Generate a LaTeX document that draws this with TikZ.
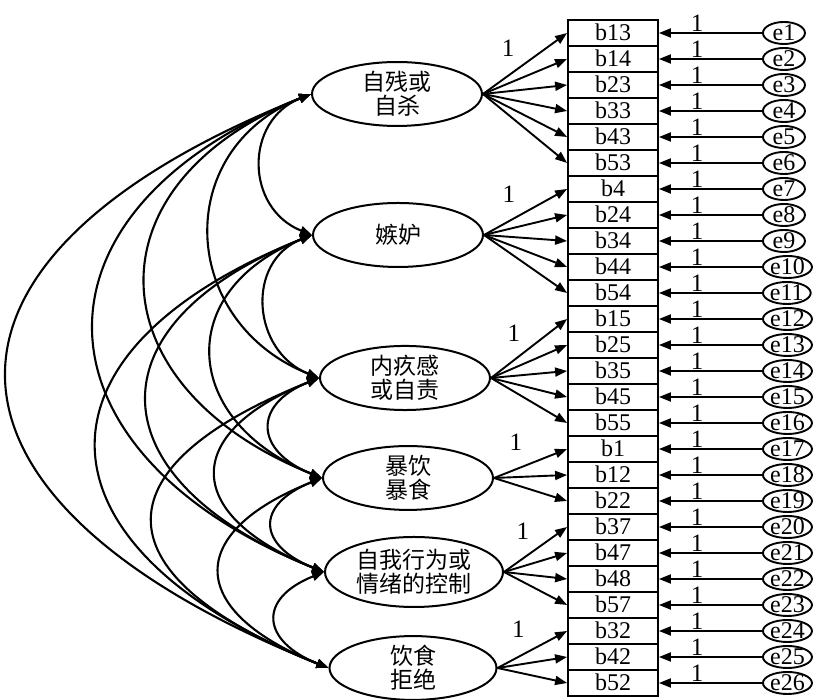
\documentclass[tikz,border=0pt]{standalone}
\usepackage{fontspec}
\setmainfont{Liberation Serif}
\newfontfamily\zhfont{Noto Sans CJK SC}
\usepackage{tikz}
\usetikzlibrary{arrows.meta,shapes.geometric}

\tikzset{
  item/.style={draw, line width=1.8pt, minimum width=90pt, minimum height=26pt,
    inner sep=0pt, text height=16pt, text depth=1pt, font=\fontsize{24}{24}\selectfont},
  err/.style={draw, ellipse, line width=1.9pt, anchor=west, minimum width=42pt,
    minimum height=22pt, inner sep=0pt, text height=15pt, text depth=0pt,
    font=\fontsize{24}{24}\selectfont},
  factor/.style={draw, ellipse, line width=2pt, minimum width=170pt, minimum height=62pt,
    inner sep=0pt, align=center, font=\zhfont\fontsize{23}{24}\selectfont},
  one/.style={inner sep=0pt, font=\fontsize{25}{25}\selectfont},
  load/.style={line width=1.9pt, -{Triangle[length=12pt,width=9pt]}},
  cov/.style={line width=2.1pt, {Triangle[length=12pt,width=9pt]}-{Triangle[length=12pt,width=9pt]}}
}

\begin{document}
\begin{tikzpicture}[x=1pt,y=1pt]
\useasboundingbox (0,0) rectangle (815,700);

% factors
\node[factor] (E1) at (397,606) {自残或\\自杀};
\node[factor, minimum height=64pt] (E2) at (398,465) {嫉妒};
\node[factor] (E3) at (405,322) {内疚感\\或自责};
\node[factor] (E4) at (408,222) {暴饮\\暴食};
\node[factor, minimum width=178pt, minimum height=70pt] (E5) at (414,128) {自我行为或\\情绪的控制};
\node[factor, minimum width=167pt, minimum height=60pt] (E6) at (413,32) {饮食\\拒绝};

% items and errors
\foreach \lab [count=\n] in {b13,b14,b23,b33,b43,b53,b4,b24,b34,b44,b54,b15,b25,b35,b45,b55,
                             b1,b12,b22,b37,b47,b48,b57,b32,b42,b52}{
  \node[item] (\lab) at (613,693-26*\n) {\lab};
  \node[err] (e\n) at (762,693-26*\n) {e\n};
  \draw[load] (e\n.west) -- (\lab.east) node[one, pos=0.63, above=1pt] {1};
}

% loadings
\draw[load] (E1.east) -- (b13.west) node[one, pos=0.3, above=18pt] {1};
\foreach \t in {b14,b23,b33,b43,b53} \draw[load] (E1.east) -- (\t.west);
\draw[load] (E2.east) -- (b4.west) node[one, pos=0.3, above=18pt] {1};
\foreach \t in {b24,b34,b44,b54} \draw[load] (E2.east) -- (\t.west);
\draw[load] (E3.east) -- (b15.west) node[one, pos=0.3, above=18pt] {1};
\foreach \t in {b25,b35,b45,b55} \draw[load] (E3.east) -- (\t.west);
\draw[load] (E4.east) -- (b1.west) node[one, pos=0.3, above=18pt] {1};
\foreach \t in {b12,b22} \draw[load] (E4.east) -- (\t.west);
\draw[load] (E5.east) -- (b37.west) node[one, pos=0.3, above=18pt] {1};
\foreach \t in {b47,b48,b57} \draw[load] (E5.east) -- (\t.west);
\draw[load] (E6.east) -- (b32.west) node[one, pos=0.3, above=18pt] {1};
\foreach \t in {b42,b52} \draw[load] (E6.east) -- (\t.west);

% covariances
\foreach \i in {1,...,5}{
  \pgfmathtruncatemacro\k{\i+1}
  \foreach \j in {\k,...,6}{
    \pgfmathsetmacro\c{{67,140,227,297,416}[\j-\i-1]}
    \draw[cov] (E\i.west) .. controls +(-\c,-0.4*\c) and +(-\c,0.4*\c) .. (E\j.west);
  }
}
\end{tikzpicture}
\end{document}
